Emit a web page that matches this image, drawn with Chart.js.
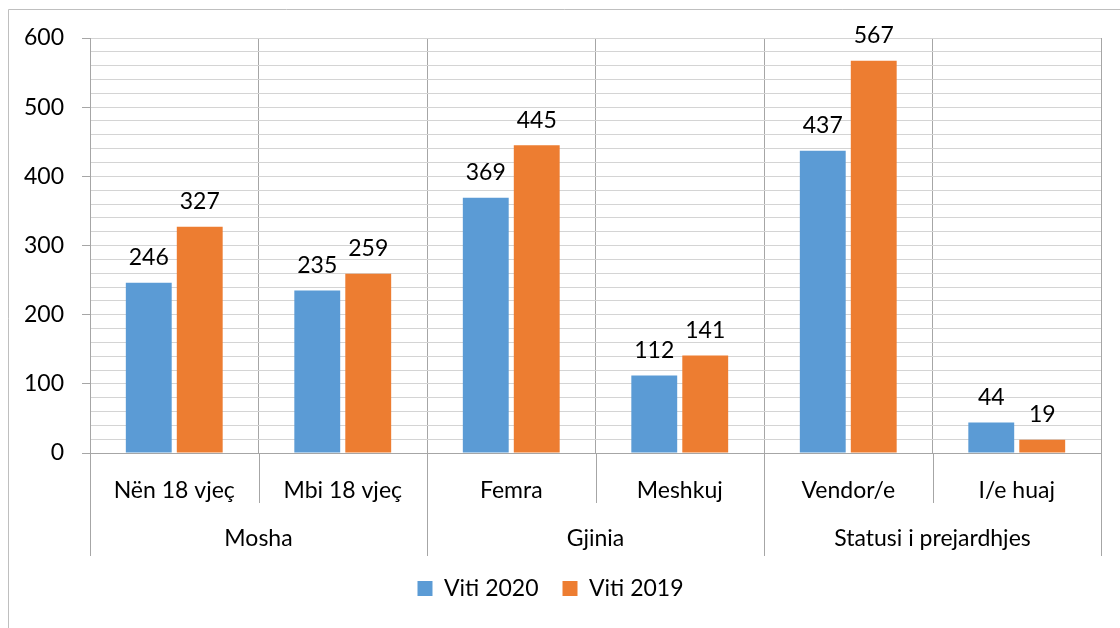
<!DOCTYPE html>
<html>
<head>
<meta charset="utf-8">
<script src="https://cdn.jsdelivr.net/npm/chart.js@4.4.1/dist/chart.umd.min.js"></script>
<style>
  html, body { margin: 0; padding: 0; background: #fff; }
  #wrap { width: 1120px; height: 628px; position: relative; }
</style>
</head>
<body>
<div id="wrap"><canvas id="chart"></canvas></div>
<script>
// categories and their groups
const categories = ['Nën 18 vjeç', 'Mbi 18 vjeç', 'Femra', 'Meshkuj', 'Vendor/e', 'I/e huaj'];
const groups = ['Mosha', 'Gjinia', 'Statusi i prejardhjes'];
const viti2020 = [246, 235, 369, 112, 437, 44];
const viti2019 = [327, 259, 445, 141, 567, 19];

const FONT = 'Lato, "Open Sans", sans-serif';
const SIZE = 23;
const LINE = '#a6a6a6';

// white background + outer chart frame (partly outside the picture)
const framePlugin = {
  id: 'frame',
  beforeDraw(chart) {
    const ctx = chart.ctx;
    ctx.save();
    ctx.fillStyle = '#fff';
    ctx.fillRect(0, 0, chart.width, chart.height);
    ctx.strokeStyle = '#bfbfbf';
    ctx.lineWidth = 1;
    ctx.beginPath();
    ctx.moveTo(8.5, chart.height);
    ctx.lineTo(8.5, 9.5);
    ctx.lineTo(chart.width, 9.5);
    ctx.stroke();
    ctx.restore();
  }
};

// separators below the axis and group labels
const groupPlugin = {
  id: 'groupLabels',
  afterDraw(chart) {
    const ctx = chart.ctx;
    const x = chart.scales.x;
    const bottom = chart.chartArea.bottom;
    const step = (x.right - x.left) / categories.length;
    ctx.save();
    ctx.strokeStyle = LINE;
    ctx.lineWidth = 1;
    for (let i = 0; i <= categories.length; i++) {
      const px = Math.round(x.left + i * step) + 0.5;
      const len = i % 2 === 0 ? 103 : 50;
      ctx.beginPath();
      ctx.moveTo(px, bottom);
      ctx.lineTo(px, bottom + len);
      ctx.stroke();
    }
    ctx.fillStyle = '#000';
    ctx.font = SIZE + 'px ' + FONT;
    ctx.textAlign = 'center';
    ctx.textBaseline = 'middle';
    groups.forEach((g, i) => {
      ctx.fillText(g, x.left + (i * 2 + 1) * step, bottom + 86);
    });
    ctx.restore();
  }
};

// value labels above the bars
const valuePlugin = {
  id: 'values',
  afterDatasetsDraw(chart) {
    const ctx = chart.ctx;
    ctx.save();
    ctx.fillStyle = '#000';
    ctx.font = SIZE + 'px ' + FONT;
    ctx.textAlign = 'center';
    ctx.textBaseline = 'middle';
    chart.data.datasets.forEach((ds, di) => {
      chart.getDatasetMeta(di).data.forEach((bar, i) => {
        ctx.fillText(ds.data[i], bar.x, bar.y - 25);
      });
    });
    ctx.restore();
  }
};

new Chart(document.getElementById('chart'), {
  type: 'bar',
  data: {
    labels: categories,
    datasets: [
      { label: 'Viti 2020', data: viti2020, backgroundColor: '#5b9bd5' },
      { label: 'Viti 2019', data: viti2019, backgroundColor: '#ed7d31' }
    ]
  },
  options: {
    responsive: true,
    maintainAspectRatio: false,
    animation: false,
    categoryPercentage: 0.605,
    barPercentage: 0.9,
    layout: { padding: { top: 38, right: 19, bottom: 18, left: 0 } },
    plugins: {
      title: { display: false },
      tooltip: { enabled: false },
      legend: {
        position: 'bottom',
        labels: {
          boxWidth: 15, boxHeight: 15, padding: 24, color: '#000',
          font: { family: FONT, size: SIZE }
        }
      }
    },
    scales: {
      x: {
        grid: { offset: true, color: LINE, drawTicks: false },
        border: { color: LINE },
        ticks: { color: '#000', padding: 24, font: { family: FONT, size: SIZE }, maxRotation: 0 },
        afterFit(axis) { axis.height = 100; }
      },
      y: {
        min: 0, max: 600,
        grid: {
          color: '#d4d4d4',
          tickLength: 8,
          tickColor: c => (c.tick && c.tick.value % 100 === 0) ? LINE : 'rgba(0,0,0,0)'
        },
        border: { color: LINE },
        ticks: {
          stepSize: 20, autoSkip: false, padding: 18, color: '#000',
          font: { family: FONT, size: SIZE },
          callback: v => v % 100 === 0 ? v : ''
        },
        afterFit(axis) { axis.width = 90; }
      }
    }
  },
  plugins: [framePlugin, groupPlugin, valuePlugin]
});
</script>
</body>
</html>
